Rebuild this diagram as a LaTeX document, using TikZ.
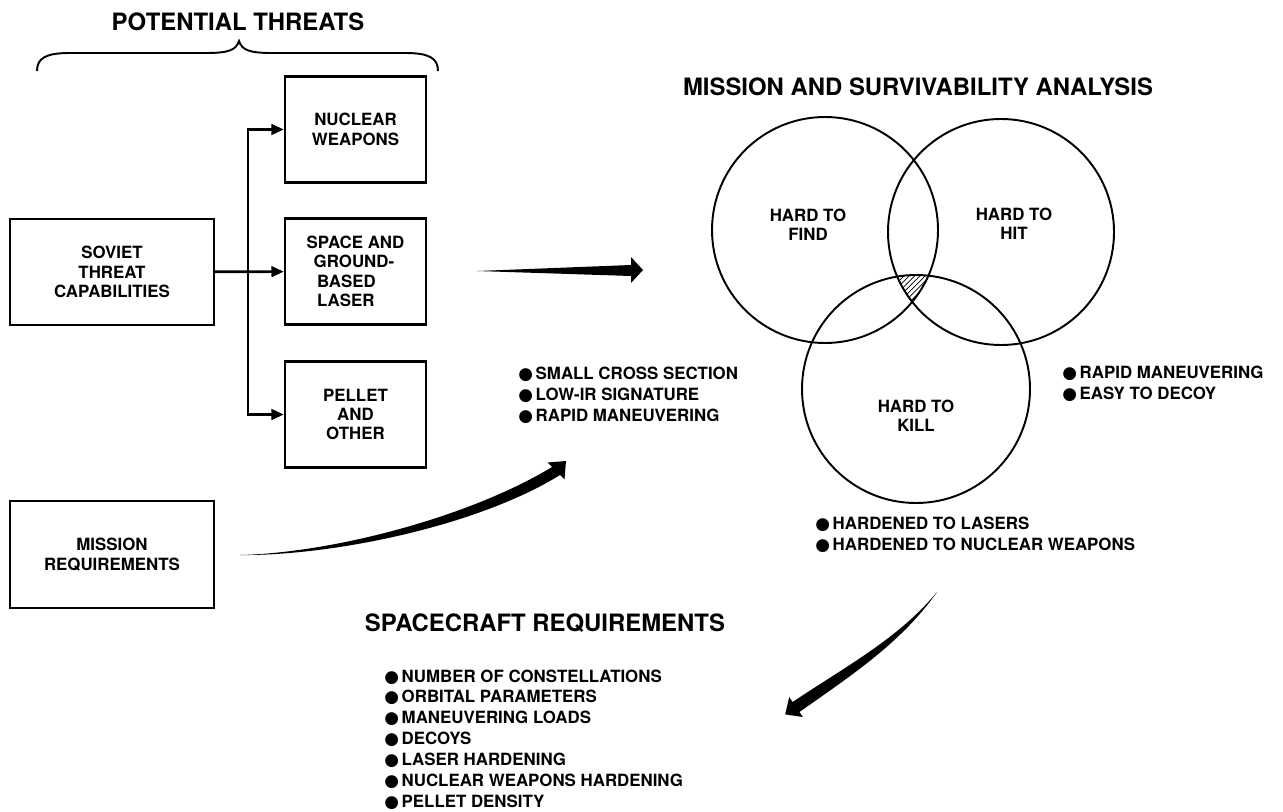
\documentclass[tikz,border=0pt]{standalone}
\usepackage{fontspec}
\setmainfont{TeX Gyre Heros}
\newfontfamily\symfont{DejaVu Sans}
\usetikzlibrary{arrows.meta,patterns}
\newcommand{\bodyfont}{\fontsize{9.6}{11}\selectfont\bfseries}
\newcommand{\listfont}{\fontsize{9.6}{11.9}\selectfont\bfseries}
\newcommand{\blt}{{\symfont ●}\hspace{1.5pt}}
\tikzset{
  box/.style={draw, line width=1.4pt, minimum width=2.82cm, minimum height=2.12cm,
    align=center, font=\bodyfont, inner sep=0pt},
  widebox/.style={box, minimum width=4.08cm},
  heading/.style={font=\fontsize{13.6}{16}\selectfont\bfseries, inner sep=0pt},
  lbl/.style={font=\bodyfont, align=center, inner sep=0pt},
  list/.style={font=\listfont, align=left, anchor=west, inner sep=0pt},
  flow/.style={-{Triangle[length=7pt, width=6pt]}, line width=1.5pt},
  ring/.style={line width=1.1pt},
}
\begin{document}
\begin{tikzpicture}[x=0.02cm, y=-0.02cm]
\useasboundingbox (0,0) rectangle (1283,811);

% threats on the left
\node[heading] (ptitle) at (238,22) {POTENTIAL THREATS};
\draw[line width=1.1pt] (37,71) .. controls (37,58) and (46,53) .. (70,53) -- (206,53)
  .. controls (229,53) and (236,50) .. (239,41) .. controls (242,50) and (249,53) .. (272,53)
  -- (405,53) .. controls (429,53) and (438,58) .. (438,71);

\node[box] (nuclear) at (355.5,129.5) {NUCLEAR\\WEAPONS};
\node[box, align=left] (laser) at (355.5,271.5) {SPACE AND\\\hspace{4pt}GROUND-\\\hspace{6pt}BASED\\\hspace{6pt}LASER};
\node[box] (pellet) at (355.5,414.5) {PELLET\\AND\\OTHER};
\node[widebox] (soviet) at (112,272) {SOVIET\\THREAT\\CAPABILITIES};
\node[widebox, minimum height=2.14cm] (mission) at (112,554.5) {MISSION\\REQUIREMENTS};

\coordinate (jn) at (248,272);
\draw[flow] (soviet) -- (laser);
\draw[flow] (jn) |- (nuclear);
\draw[flow] (jn) |- (pellet);

% big arrows
\fill (477,271) -- (631,265) -- (631,257) -- (643,270) -- (631,283) -- (631,276) -- cycle;
\fill (240,555) .. controls (330,553) and (468,518) .. (552,467) -- (547.5,462.5)
  -- (566,461) -- (564.5,479.5) -- (560,475) .. controls (476,527) and (330,556) .. (240,555) -- cycle;
\fill (937,592) .. controls (899,638) and (848,665) .. (792.6,702) -- (789.2,697)
  -- (785.2,714.4) -- (802.8,717) -- (799.4,712) .. controls (852,675) and (902,642) .. (937,592) -- cycle;

% survivability circles
\node[heading] (mtitle) at (918,87) {MISSION AND SURVIVABILITY ANALYSIS};
\coordinate (cfind) at (825,230);
\coordinate (chit) at (1001,232);
\coordinate (ckill) at (916,389);
\begin{scope}
  \clip (cfind) circle[radius=113];
  \clip (chit) circle[radius=113];
  \fill[pattern=north east lines] (ckill) circle[radius=114];
\end{scope}
\draw[ring] (cfind) circle[radius=113];
\draw[ring] (chit) circle[radius=113];
\draw[ring] (ckill) circle[radius=114];
\node[lbl] (find) at (808,225) {HARD TO\\FIND};
\node[lbl] (hit) at (1014,224) {HARD TO\\HIT};
\node[lbl] (kill) at (916,416) {HARD TO\\KILL};

\node[list] (findlist) at (518,395) {\blt SMALL CROSS SECTION\\\blt LOW-IR SIGNATURE\\\blt RAPID MANEUVERING};
\node[list] (hitlist) at (1062,383.5) {\blt RAPID MANEUVERING\\\blt EASY TO DECOY};
\node[list] (killlist) at (815,535) {\blt HARDENED TO LASERS\\\blt HARDENED TO NUCLEAR WEAPONS};

% spacecraft requirements
\node[heading] (stitle) at (545,623) {SPACECRAFT REQUIREMENTS};
\node[list] (reqlist) at (384,739.5) {\blt NUMBER OF CONSTELLATIONS\\\blt ORBITAL PARAMETERS\\
  \blt MANEUVERING LOADS\\\blt DECOYS\\\blt LASER HARDENING\\\blt NUCLEAR WEAPONS HARDENING\\
  \blt PELLET DENSITY};

\end{tikzpicture}
\end{document}
